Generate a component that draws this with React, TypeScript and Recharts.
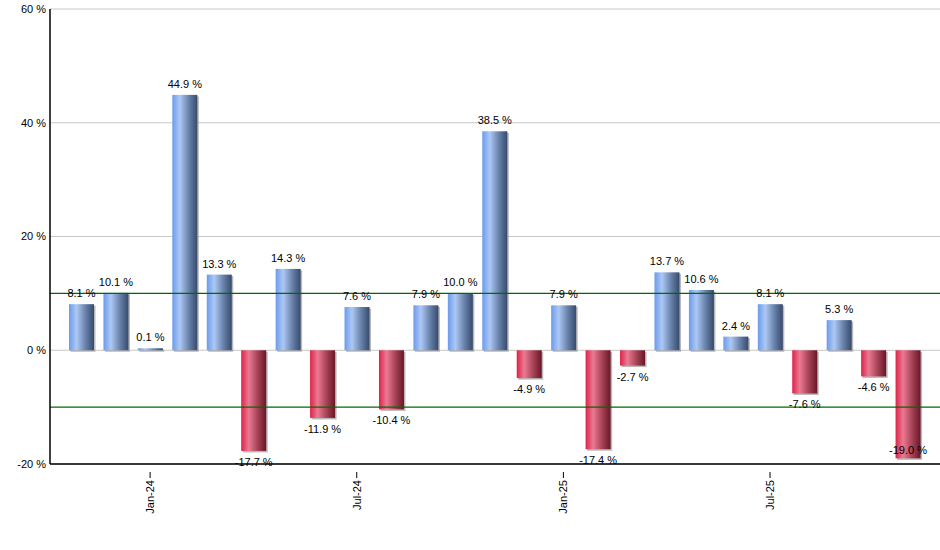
import React from "react";
import {
  BarChart,
  Bar,
  XAxis,
  YAxis,
  CartesianGrid,
  ReferenceLine,
  LabelList,
} from "recharts";

const months = [
  "Nov-23", "Dec-23", "Jan-24", "Feb-24", "Mar-24", "Apr-24", "May-24",
  "Jun-24", "Jul-24", "Aug-24", "Sep-24", "Oct-24", "Nov-24", "Dec-24",
  "Jan-25", "Feb-25", "Mar-25", "Apr-25", "May-25", "Jun-25", "Jul-25",
  "Aug-25", "Sep-25", "Oct-25", "Nov-25",
];

const returns = [
  8.1, 10.1, 0.1, 44.9, 13.3, -17.7, 14.3, -11.9, 7.6, -10.4, 7.9, 10.0,
  38.5, -4.9, 7.9, -17.4, -2.7, 13.7, 10.6, 2.4, 8.1, -7.6, 5.3, -4.6, -19.0,
];

const shownMonths = ["Jan-24", "Jul-24", "Jan-25", "Jul-25"];
const yTicks = [-20, 0, 20, 40, 60];
const bandLines = [10, -10];

const FONT = "'Liberation Sans', Arial, sans-serif";

const data = months.map((m, i) => ({ month: m, value: returns[i] }));

// bar with a soft grey drop shadow and a cylinder-like gradient
const GradientBar = (props: any) => {
  const { x, y, width, height, value } = props;
  const top = Math.min(y, y + height);
  const h = Math.abs(height);
  const fill = value >= 0 ? "url(#blueGrad)" : "url(#redGrad)";
  return (
    <g>
      <rect x={x + 1.5} y={top + 1.5} width={width} height={h} fill="#9a9a9a" opacity={0.7} />
      <rect x={x} y={top} width={width} height={h} fill={fill} />
    </g>
  );
};

const ValueLabel = (props: any) => {
  const { x, y, width, height, value } = props;
  const top = Math.min(y, y + height);
  const bottom = Math.max(y, y + height);
  let ty = value >= 0 ? top - 7 : bottom + 15;
  // no room under the plot: tuck the label inside the bar end
  if (ty > 470) ty = bottom - 4;
  return (
    <text
      x={x + width / 2}
      y={ty}
      textAnchor="middle"
      fontSize={11}
      fontFamily={FONT}
      fill="#000"
    >
      {`${value.toFixed(1)} %`}
    </text>
  );
};

const MonthTick = (props: any) => {
  const { x, y, payload } = props;
  if (!shownMonths.includes(payload.value)) return null;
  return (
    <g>
      <line x1={x} y1={y} x2={x} y2={y + 6} stroke="#000" strokeWidth={1} />
      <text
        x={x}
        y={y + 8}
        dy="0.35em"
        textAnchor="end"
        fontSize={11}
        fontFamily={FONT}
        fill="#000"
        transform={`rotate(-90, ${x}, ${y + 8})`}
      >
        {payload.value}
      </text>
    </g>
  );
};

export default function App() {
  return (
    <div style={{ position: "absolute", left: 0, top: 0, background: "#fff" }}>
      <BarChart
        width={940}
        height={550}
        data={data}
        margin={{ top: 9, right: 0, bottom: 0, left: 0 }}
        barSize={25}
      >
        <defs>
          <linearGradient id="blueGrad" x1="0" y1="0" x2="1" y2="0">
            <stop offset="0%" stopColor="#6b9bec" />
            <stop offset="30%" stopColor="#adc8f4" />
            <stop offset="65%" stopColor="#6a84ad" />
            <stop offset="100%" stopColor="#364a6c" />
          </linearGradient>
          <linearGradient id="redGrad" x1="0" y1="0" x2="1" y2="0">
            <stop offset="0%" stopColor="#de2249" />
            <stop offset="30%" stopColor="#ea7a92" />
            <stop offset="65%" stopColor="#a84458" />
            <stop offset="100%" stopColor="#6a1626" />
          </linearGradient>
        </defs>
        <CartesianGrid vertical={false} stroke="#c8c8c8" />
        <XAxis
          dataKey="month"
          interval={0}
          height={86}
          padding={{ left: 14, right: 15 }}
          axisLine={{ stroke: "#000", strokeWidth: 1.5 }}
          tickLine={false}
          tick={<MonthTick />}
        />
        <YAxis
          width={50}
          domain={[-20, 60]}
          ticks={yTicks}
          allowDataOverflow
          axisLine={{ stroke: "#000", strokeWidth: 1.5 }}
          tickLine={false}
          tickSize={4}
          tickMargin={0}
          tick={{ fontSize: 11, fontFamily: FONT, fill: "#000" }}
          tickFormatter={(v: number) => `${v} %`}
        />
        {bandLines.map((v) => (
          <ReferenceLine key={v} y={v} stroke="#006a00" strokeWidth={1.2} />
        ))}
        <Bar
          dataKey="value"
          shape={<GradientBar />}
          minPointSize={2}
          isAnimationActive={false}
        >
          <LabelList dataKey="value" content={<ValueLabel />} />
        </Bar>
      </BarChart>
    </div>
  );
}
